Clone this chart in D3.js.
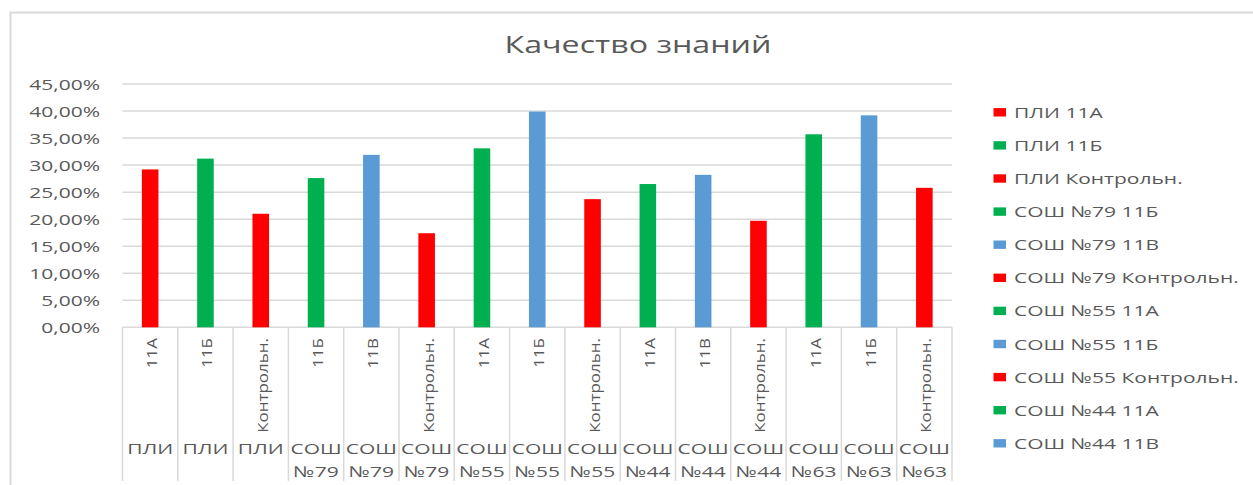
<!DOCTYPE html>
<html>
<head>
<meta charset="utf-8">
<script src="https://cdn.jsdelivr.net/npm/d3@7"></script>
<style>
  html, body { margin: 0; padding: 0; background: #fff; }
  text { font-family: "Open Sans", "Liberation Sans", sans-serif; fill: #595959; }
</style>
</head>
<body>
<script>
(function () {
  "use strict";

  var schools = ["ПЛИ", "ПЛИ", "ПЛИ", "СОШ №79", "СОШ №79", "СОШ №79", "СОШ №55", "СОШ №55", "СОШ №55",
    "СОШ №44", "СОШ №44", "СОШ №44", "СОШ №63", "СОШ №63", "СОШ №63"];
  var classes = ["11А", "11Б", "Контрольн.", "11Б", "11В", "Контрольн.", "11А", "11Б", "Контрольн.",
    "11А", "11В", "Контрольн.", "11А", "11Б", "Контрольн."];
  var values = [0.292, 0.312, 0.210, 0.276, 0.319, 0.174, 0.331, 0.399, 0.237,
    0.265, 0.282, 0.197, 0.357, 0.392, 0.258];
  var barColors = ["#FF0000", "#00B050", "#FF0000", "#00B050", "#5B9BD5", "#FF0000", "#00B050", "#5B9BD5", "#FF0000",
    "#00B050", "#5B9BD5", "#FF0000", "#00B050", "#5B9BD5", "#FF0000"];
  var yTicks = [0, 0.05, 0.10, 0.15, 0.20, 0.25, 0.30, 0.35, 0.40, 0.45];
  var title = "Качество знаний";
  var legendCount = 11; // only the first entries fit in the legend box

  var width = 1253, height = 485,
    SX = 1.4, // the picture is stretched horizontally
    left = 122.5, right = 952, top = 84, bottom = 327.3,
    grid = "#D9D9D9";

  var svg = d3.select("body").append("svg")
    .attr("width", width)
    .attr("height", height);

  // chart frame (right and bottom edges fall outside the picture)
  svg.append("rect")
    .attr("x", 10.5).attr("y", 12.5)
    .attr("width", width + 20).attr("height", height + 20)
    .attr("fill", "none").attr("stroke", grid).attr("stroke-width", 2);

  var x = d3.scaleBand().domain(d3.range(values.length)).range([left, right]).padding(0);
  var y = d3.scaleLinear().domain([0, 0.45]).range([bottom, top]);
  var fmt = function (d) { return d3.format(".2f")(d * 100).replace(".", ",") + "%"; };

  function hText(sel, tx, ty) {
    return sel.attr("transform", "translate(" + tx + "," + ty + ") scale(" + SX + ",1)");
  }

  // title
  hText(svg.append("text"), 638, 53)
    .attr("text-anchor", "middle")
    .style("font-size", "23px")
    .text(title);

  // gridlines and y labels
  svg.append("g").selectAll("line")
    .data(yTicks.slice(1))
    .enter().append("line")
    .attr("x1", left).attr("x2", right)
    .attr("y1", function (d) { return y(d); })
    .attr("y2", function (d) { return y(d); })
    .attr("stroke", grid).attr("stroke-width", 1.5);

  svg.append("g").selectAll("text")
    .data(yTicks)
    .enter().append("text")
    .each(function (d) { hText(d3.select(this), 100, y(d) + 5.5); })
    .attr("text-anchor", "end")
    .style("font-size", "15px")
    .text(fmt);

  // category axis
  svg.append("line")
    .attr("x1", left).attr("x2", right)
    .attr("y1", bottom).attr("y2", bottom)
    .attr("stroke", grid).attr("stroke-width", 1.5);

  svg.append("g").selectAll("line")
    .data(d3.range(values.length + 1))
    .enter().append("line")
    .attr("x1", function (i) { return i < values.length ? x(i) : right; })
    .attr("x2", function (i) { return i < values.length ? x(i) : right; })
    .attr("y1", bottom).attr("y2", 481)
    .attr("stroke", grid).attr("stroke-width", 1.5);

  // bars
  var bw = x.bandwidth() * 0.3;
  svg.append("g").selectAll("rect")
    .data(values)
    .enter().append("rect")
    .attr("x", function (d, i) { return x(i) + (x.bandwidth() - bw) / 2; })
    .attr("y", function (d) { return y(d); })
    .attr("width", bw)
    .attr("height", function (d) { return bottom - y(d); })
    .attr("fill", function (d, i) { return barColors[i]; });

  // inner category labels (rotated)
  svg.append("g").selectAll("text")
    .data(classes)
    .enter().append("text")
    .attr("transform", function (d, i) {
      return "translate(" + (x(i) + x.bandwidth() / 2 + 7) + "," + 338 + ") rotate(-90) scale(1,0.9)";
    })
    .attr("text-anchor", "end")
    .style("font-size", "17px")
    .text(function (d) { return d; });

  // outer category labels (school)
  var outer = svg.append("g").selectAll("g")
    .data(schools)
    .enter().append("g");
  outer.each(function (d, i) {
    var parts = d.split(" "), cx = x(i) + x.bandwidth() / 2, g = d3.select(this);
    parts.forEach(function (p, k) {
      hText(g.append("text"), cx, 454.3 + k * 22.5)
        .attr("text-anchor", "middle")
        .style("font-size", "15px")
        .text(p);
    });
  });

  // legend
  var legend = svg.append("g").selectAll("g")
    .data(d3.range(legendCount))
    .enter().append("g")
    .attr("transform", function (i) { return "translate(0," + (112.3 + i * 33.1) + ")"; });
  legend.append("rect")
    .attr("x", 993.5).attr("y", -4.2)
    .attr("width", 12.5).attr("height", 8.4)
    .attr("fill", function (i) { return barColors[i]; });
  legend.append("text")
    .each(function (i) { hText(d3.select(this), 1014, 5.5); })
    .style("font-size", "15px")
    .text(function (i) { return schools[i] + " " + classes[i]; });
})();
</script>
</body>
</html>
